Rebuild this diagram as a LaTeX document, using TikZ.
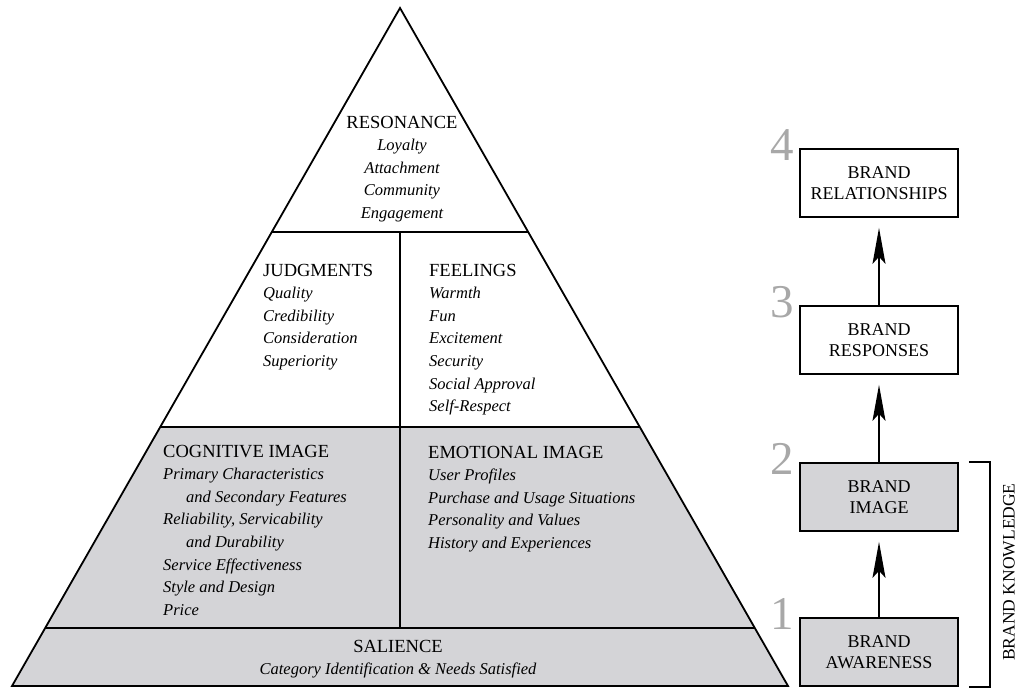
\documentclass[tikz,border=0pt]{standalone}
\usepackage{fontspec}
\setmainfont{Liberation Serif}
\usetikzlibrary{arrows.meta,positioning,calc}

\definecolor{pyrfill}{RGB}{212,212,215}
\definecolor{numgray}{RGB}{168,168,168}

\tikzset{
  stepbox/.style={draw,line width=1.7pt,minimum width=158pt,minimum height=68pt,
    align=center,inner sep=2pt,font=\fontsize{18}{21}\selectfont},
  uparrow/.style={-{Stealth[length=36pt,width=13pt,inset=7pt]},line width=1.7pt,shorten >=10pt},
  levelnum/.style={anchor=south east,text=numgray,inner sep=0pt,
    font=\fontsize{47}{47}\selectfont},
  blocktext/.style={inner sep=0pt,font=\fontsize{18.5}{22.6}\selectfont},
}
\newcommand{\leftblock}[1]{\begin{tabular}[t]{@{}l@{}}#1\end{tabular}}
\newcommand{\midblock}[1]{\begin{tabular}[t]{@{}c@{}}#1\end{tabular}}
\newcommand{\itm}{\fontsize{16.5}{22.6}\selectfont\itshape}

\begin{document}
\begin{tikzpicture}[x=1pt,y=-1pt]
  \useasboundingbox (0,0) rectangle (1018,688);

  % pyramid
  \coordinate (apex) at (400,8);
  \coordinate (bl) at (12,686);
  \coordinate (br) at (788,686);
  \coordinate (resL) at ($(apex)!0.3304!(bl)$);
  \coordinate (resR) at ($(apex)!0.3304!(br)$);
  \coordinate (imgL) at ($(apex)!0.618!(bl)$);
  \coordinate (imgR) at ($(apex)!0.618!(br)$);
  \coordinate (salL) at ($(apex)!0.9145!(bl)$);
  \coordinate (salR) at ($(apex)!0.9145!(br)$);
  \fill[pyrfill] (imgL) -- (imgR) -- (br) -- (bl) -- cycle;
  \draw[line width=1.8pt,line join=miter] (apex) -- (br) -- (bl) -- cycle;
  \draw[line width=1.8pt] (resL) -- (resR);
  \draw[line width=1.8pt] (imgL) -- (imgR);
  \draw[line width=1.8pt] (salL) -- (salR);
  \draw[line width=1.8pt] (resL -| apex) -- (salL -| apex);

  \node[blocktext,anchor=base] (resonance) at (402,128) {\midblock{RESONANCE\\
    \itm Loyalty\\ \itm Attachment\\ \itm Community\\ \itm Engagement}};
  \node[blocktext,anchor=base west] (judgments) at (263,276) {\leftblock{JUDGMENTS\\
    \itm Quality\\ \itm Credibility\\ \itm Consideration\\ \itm Superiority}};
  \node[blocktext,anchor=base west] (feelings) at (429,276) {\leftblock{FEELINGS\\
    \itm Warmth\\ \itm Fun\\ \itm Excitement\\ \itm Security\\
    \itm Social Approval\\ \itm Self-Respect}};
  \node[blocktext,anchor=base west] (cognitive) at (163,457) {\leftblock{COGNITIVE IMAGE\\
    \itm Primary Characteristics\\ \itm \hspace{23pt}and Secondary Features\\
    \itm Reliability, Servicability\\ \itm \hspace{23pt}and Durability\\
    \itm Service Effectiveness\\ \itm Style and Design\\ \itm Price}};
  \node[blocktext,anchor=base west] (emotional) at (428,458) {\leftblock{EMOTIONAL IMAGE\\
    \itm User Profiles\\ \itm Purchase and Usage Situations\\
    \itm Personality and Values\\ \itm History and Experiences}};
  \node[blocktext,anchor=base] (salience) at (398,652) {\midblock{SALIENCE\\
    \itm Category Identification \& Needs Satisfied}};

  % brand building ladder
  \node[stepbox] (relationships) at (879,183) {BRAND\\RELATIONSHIPS};
  \node[stepbox] (responses) at (879,340) {BRAND\\RESPONSES};
  \node[stepbox,fill=pyrfill] (image) at (879,497) {BRAND\\IMAGE};
  \node[stepbox,fill=pyrfill] (awareness) at (879,652) {BRAND\\AWARENESS};

  \draw[uparrow] (awareness) -- (image);
  \draw[uparrow] (image) -- (responses);
  \draw[uparrow] (responses) -- (relationships);

  \node[levelnum] (n4) at ([xshift=-5pt,yshift=-13pt]relationships.north west) {4};
  \node[levelnum] (n3) at ([xshift=-5pt,yshift=-13pt]responses.north west) {3};
  \node[levelnum] (n2) at ([xshift=-5pt,yshift=-13pt]image.north west) {2};
  \node[levelnum] (n1) at ([xshift=-5pt,yshift=-13pt]awareness.north west) {1};

  % brand knowledge bracket
  \draw[line width=1.7pt] ([xshift=10pt]image.north east) -- ([xshift=31pt]image.north east)
    -- ([xshift=31pt]awareness.south east) -- ([xshift=10pt]awareness.south east);
  \node[rotate=90,inner sep=0pt,font=\fontsize{17.5}{20}\selectfont] (knowledge) at (1009,572) {BRAND KNOWLEDGE};
\end{tikzpicture}
\end{document}
